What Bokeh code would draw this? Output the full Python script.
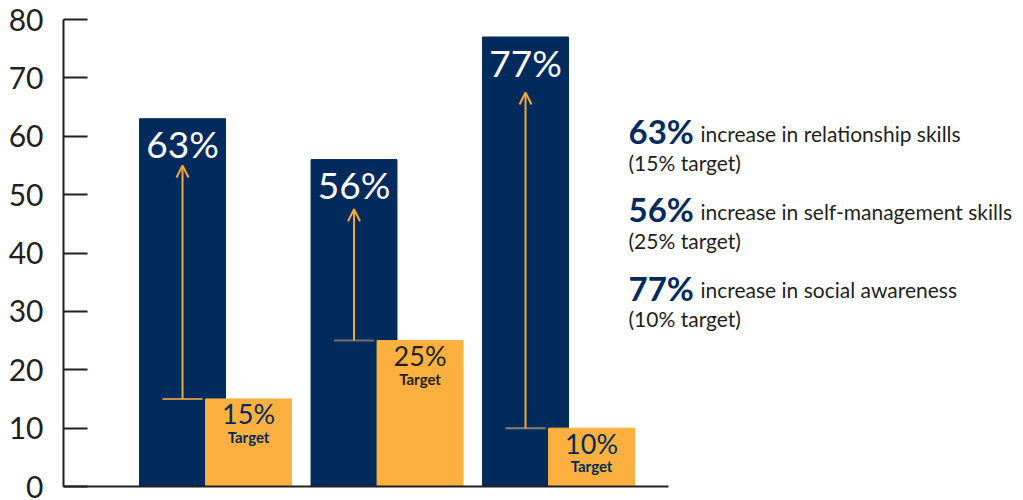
import numpy as np
from bokeh.plotting import figure
from bokeh.models import Range1d, ColumnDataSource, Arrow, OpenHead, FixedTicker
from bokeh.core.properties import value
from bokeh.embed import file_html
from bokeh.resources import INLINE

# ---- data ----
skills = ["relationship skills", "self-management skills", "social awareness"]
increase = [63, 56, 77]          # % increase (navy bars)
target = [15, 25, 10]            # % target (orange bars)
arrow_tip = [55, 47.5, 67.5]     # where each arrow ends
y_ticks = [0, 10, 20, 30, 40, 50, 60, 70, 80]

# ---- styles ----
NAVY = "#002B5C"
ORANGE = "#FBB040"
ARROW = "#F0A83A"
DARK = "#231F20"
FONT = value("Lato")
seg_colors = ["#C0914A", "#6E6E6E", "#8C7E6C"]
target_label_colors = [NAVY, DARK, NAVY]

x = np.arange(len(increase), dtype=float)
BAR_W = 0.501
ORANGE_SHIFT = 0.385
X0 = -0.694

p = figure(width=1023, height=500,
           x_range=Range1d(X0, X0 + 960 / 171.5), y_range=Range1d(0, 80),
           output_backend="svg", toolbar_location=None,
           min_border_left=63, min_border_right=0,
           min_border_top=19, min_border_bottom=14)
p.outline_line_color = None
p.grid.grid_line_color = None
p.background_fill_color = "white"
p.border_fill_color = "white"

# y axis
yax = p.yaxis[0]
yax.ticker = FixedTicker(ticks=y_ticks)
yax.minor_tick_line_color = None
yax.major_tick_in = 24
yax.major_tick_out = 0
yax.major_tick_line_width = 2
yax.major_tick_line_color = DARK
yax.axis_line_width = 2
yax.axis_line_color = DARK
yax.major_label_text_font = "Lato"
yax.major_label_text_font_size = "30px"
yax.major_label_text_color = DARK
yax.major_label_standoff = 20

# x axis: only the base line
xax = p.xaxis[0]
xax.ticker = FixedTicker(ticks=[])
xax.major_tick_line_color = None
xax.minor_tick_line_color = None
xax.major_label_text_font_size = "0px"
xax.axis_line_width = 2
xax.axis_line_color = DARK
xax.bounds = (X0, X0 + 605 / 171.5)

src = ColumnDataSource(dict(
    x=x, xo=x + ORANGE_SHIFT, inc=increase, tgt=target, tip=arrow_tip,
    inc_lbl=[f"{v}%" for v in increase], tgt_lbl=[f"{v}%" for v in target],
    tword=["Target"] * len(target),
    seg_x0=x - 0.117, seg_x1=x + 0.117,
    segc=seg_colors, tcol=target_label_colors,
))

p.vbar(x="x", top="inc", bottom=0, width=BAR_W, color=NAVY, source=src)
p.segment(x0="seg_x0", y0="tgt", x1="seg_x1", y1="tgt", line_color="segc",
          line_width=2, source=src)
p.vbar(x="xo", top="tgt", bottom=0, width=BAR_W, color=ORANGE, source=src)

p.add_layout(Arrow(end=OpenHead(size=12, line_color=ARROW, line_width=2),
                   x_start="x", y_start="tgt", x_end="x", y_end="tip",
                   line_color=ARROW, line_width=2, source=src))

p.text(x="x", y="inc", text="inc_lbl", text_align="center",
       text_baseline="alphabetic", y_offset=25, text_color="white",
       text_font=FONT, text_font_size="37px", source=src)
p.text(x="xo", y="tgt", text="tgt_lbl", text_align="center",
       text_baseline="alphabetic", y_offset=15, text_color="tcol",
       text_font=FONT, text_font_size="27px", source=src)
p.text(x="xo", y="tgt", text="tword", text_align="center",
       text_baseline="alphabetic", y_offset=38, text_color="tcol",
       text_font=FONT, text_font_size="15px", text_font_style="bold", source=src)

# right-hand legend text
LEG_X = X0 + 565 / 171.5
LEG_Y0 = 58.8
LEG_STEP = 13.4
leg = ColumnDataSource(dict(
    x=[LEG_X] * 3,
    y=[LEG_Y0 - i * LEG_STEP for i in range(3)],
    big=[f"{v}%" for v in increase],
    desc=[f"increase in {s}" for s in skills],
    sub=[f"({t}% target)" for t in target],
))
p.text(x="x", y="y", text="big", text_baseline="alphabetic", text_align="left",
       y_offset=-12, text_color=NAVY, text_font=FONT, text_font_size="33px",
       text_font_style="bold", source=leg)
p.text(x="x", y="y", text="desc", text_baseline="alphabetic", text_align="left",
       x_offset=72, y_offset=-10, text_color=DARK, text_font=FONT,
       text_font_size="21px", source=leg)
p.text(x="x", y="y", text="sub", text_baseline="alphabetic", text_align="left",
       y_offset=19, text_color=DARK, text_font=FONT,
       text_font_size="21px", source=leg)

open("out.html", "w").write(file_html(p, INLINE))
